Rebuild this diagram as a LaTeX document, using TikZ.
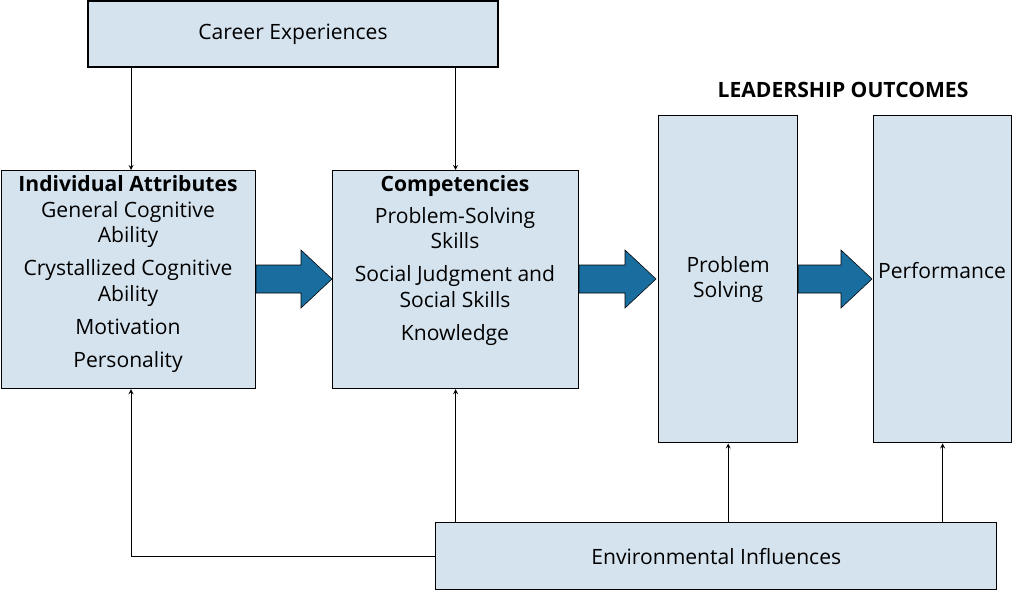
\documentclass[tikz,border=0pt]{standalone}
\usepackage{fontspec}
\setmainfont{Open Sans}
\usetikzlibrary{positioning}
\definecolor{boxfill}{HTML}{D5E3EE}
\definecolor{bigblue}{HTML}{1A6E9F}
\tikzset{%
  box/.style = {rectangle,draw,thick,fill=boxfill,align=center,
        inner sep=0pt,font=\fontsize{15}{18}\selectfont},
  conn/.style = {-stealth,semithick},
  fat/.style = {draw=black,fill=bigblue,thin},
  txt/.style = {font=\fontsize{15}{18}\selectfont,align=center}
}
\newcommand{\fatarrow}[2]{% from #1 (east point) to #2 (west point)
  \draw[fat] ($(#1)+(0,-14)$) -- ($(#2)+(-31,-14)$) -- ($(#2)+(-31,-29)$) -- (#2)
    -- ($(#2)+(-31,29)$) -- ($(#2)+(-31,14)$) -- ($(#1)+(0,14)$) -- cycle;}
\usetikzlibrary{calc}
\begin{document}
\begin{tikzpicture}[x=0.025cm,y=-0.025cm]
    \useasboundingbox (0,0) rectangle (1013,591);
    \node[box,minimum width=10.25cm,minimum height=1.65cm] (career) at (293,34) {Career Experiences};
    \node[box,minimum width=6.35cm,minimum height=5.45cm,anchor=north west] (attr) at (1,170) {};
    \node[box,minimum width=6.15cm,minimum height=5.45cm,anchor=north west] (comp) at (332,170) {};
    \node[box,minimum width=3.48cm,minimum height=8.18cm,anchor=north west] (solve) at (658,115) {Problem\\Solving};
    \node[box,minimum width=3.45cm,minimum height=8.18cm,anchor=north west] (perf) at (873,115) {};
    \node[box,minimum width=14.03cm,minimum height=1.68cm,anchor=north west] (env) at (435,522) {Environmental Influences};
    \node[txt,font=\fontsize{15}{18}\selectfont\bfseries] (outcomes) at (843,90) {LEADERSHIP OUTCOMES};
    \node[txt,anchor=north] (attrtext) at (128,171)
        {\textbf{Individual Attributes}\\General Cognitive\\Ability\\[2mm]Crystallized Cognitive\\Ability\\[2mm]Motivation\\[2mm]Personality};
    \node[txt,anchor=north] (comptext) at (455,171)
        {\textbf{Competencies}\\[1.5mm]Problem-Solving\\Skills\\[2mm]Social Judgment and\\Social Skills\\[2mm]Knowledge};
    \node[txt] (perftext) at (942,271) {Performance};
    % big arrows
    \coordinate (a1) at (attr.east |- 0,279);
    \coordinate (b1) at (332,279);
    \coordinate (a2) at (comp.east |- 0,279);
    \coordinate (b2) at (656,279);
    \coordinate (a3) at (solve.east |- 0,279);
    \coordinate (b3) at (872,279);
    \fatarrow{a1}{b1}
    \fatarrow{a2}{b2}
    \fatarrow{a3}{b3}
    % thin arrows
    \draw[conn] (career.south -| 131,0) -- (attr.north -| 131,0);
    \draw[conn] (career.south -| comp.north) -- (comp.north);
    \draw[conn] (env.west) -| (attr.south -| 131,0);
    \draw[conn] (env.north -| comp.south) -- (comp.south);
    \draw[conn] (env.north -| solve.south) -- (solve.south);
    \draw[conn] (env.north -| perf.south) -- (perf.south);
\end{tikzpicture}
\end{document}
